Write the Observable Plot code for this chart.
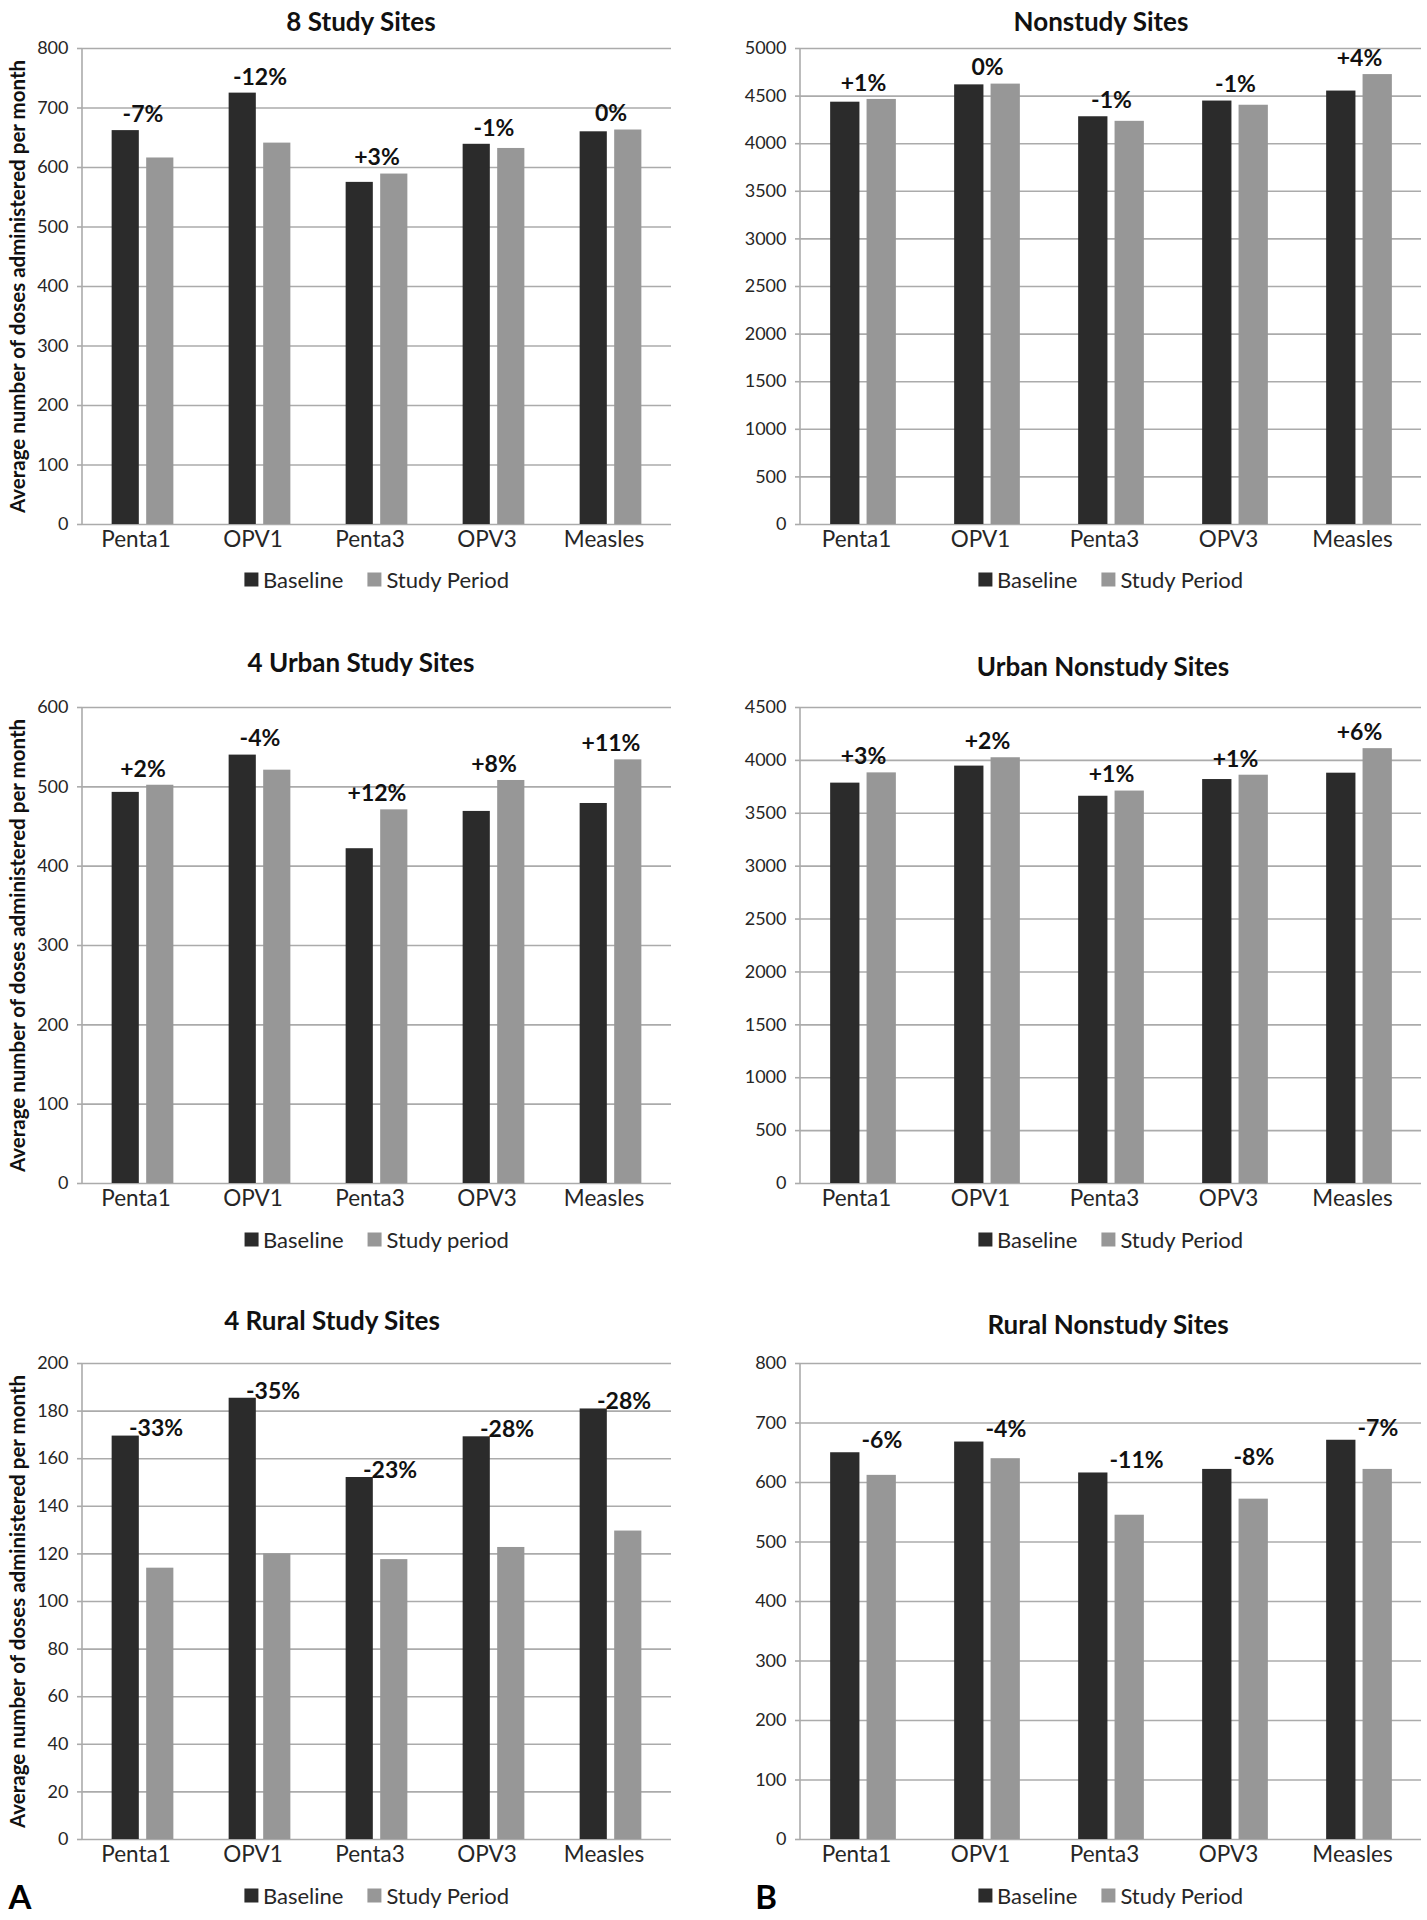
<!DOCTYPE html>
<html><head><meta charset="utf-8">
<script src="https://cdn.jsdelivr.net/npm/d3@7"></script>
<script src="https://cdn.jsdelivr.net/npm/@observablehq/plot@0.6"></script>
<style>
html,body{margin:0;padding:0;background:#fff;}
#root{position:relative;width:1427px;height:1920px;background:#fff;font-family:Lato,"Open Sans",sans-serif;color:#1a1a1a;overflow:hidden}
.title{position:absolute;font-weight:bold;font-size:26px;transform:translate(-50%,-50%);white-space:nowrap;color:#111}
.legend{position:absolute;transform:translate(-50%,-50%);display:flex;align-items:center;font-size:22px;white-space:nowrap;color:#262626}
.legend .item{display:flex;align-items:center;margin:0 12px}
.legend .sw{display:inline-block;width:14px;height:14px;margin-right:5px}
.plot{position:absolute}
.letter{position:absolute;font-weight:bold;font-size:33px;transform:translate(-50%,-50%);color:#000}
</style></head>
<body><div id="root"></div>
<script>
// ---- data ----
const categories = ["Penta1", "OPV1", "Penta3", "OPV3", "Measles"];
const seriesNames = ["Baseline", "Study Period"];

const study8Baseline = [662, 725, 575, 639, 660];
const study8Study = [616, 641, 589, 632, 663];
const study8Change = ["-7%", "-12%", "+3%", "-1%", "0%"];

const nonstudyBaseline = [4436, 4618, 4283, 4448, 4553];
const nonstudyStudy = [4465, 4626, 4235, 4404, 4726];
const nonstudyChange = ["+1%", "0%", "-1%", "-1%", "+4%"];

const urbanStudyBaseline = [493, 540, 422, 469, 479];
const urbanStudyStudy = [502, 521, 471, 508, 534];
const urbanStudyChange = ["+2%", "-4%", "+12%", "+8%", "+11%"];

const urbanNonBaseline = [3785, 3946, 3661, 3819, 3879];
const urbanNonStudy = [3882, 4025, 3710, 3860, 4111];
const urbanNonChange = ["+3%", "+2%", "+1%", "+1%", "+6%"];

const ruralStudyBaseline = [169.5, 185.4, 152.1, 169.2, 180.9];
const ruralStudyStudy = [114, 120, 117.6, 122.7, 129.6];
const ruralStudyChange = ["-33%", "-35%", "-23%", "-28%", "-28%"];

const ruralNonBaseline = [650, 668, 616, 622, 671];
const ruralNonStudy = [612, 640, 545, 572, 622];
const ruralNonChange = ["-6%", "-4%", "-11%", "-8%", "-7%"];

const ticks800 = [0, 100, 200, 300, 400, 500, 600, 700, 800];
const ticks5000 = [0, 500, 1000, 1500, 2000, 2500, 3000, 3500, 4000, 4500, 5000];
const ticks600 = [0, 100, 200, 300, 400, 500, 600];
const ticks4500 = [0, 500, 1000, 1500, 2000, 2500, 3000, 3500, 4000, 4500];
const ticks200 = [0, 20, 40, 60, 80, 100, 120, 140, 160, 180, 200];

const yTitle = "Average number of doses administered per month";

// ---- style ----
const baseColor = "#2b2b2b";
const studyColor = "#979797";
const gridColor = "#ababab";
const textColor = "#262626";

const panels = [
  {title: "8 Study Sites", base: study8Baseline, study: study8Study, change: study8Change, ticks: ticks800,
   legend: ["Baseline", "Study Period"], col: 0, row: 0, titleX: 361, titleY: 21, mode: "pair"},
  {title: "Nonstudy Sites", base: nonstudyBaseline, study: nonstudyStudy, change: nonstudyChange, ticks: ticks5000,
   legend: ["Baseline", "Study Period"], col: 1, row: 0, titleX: 1101, titleY: 21, mode: "pair"},
  {title: "4 Urban Study Sites", base: urbanStudyBaseline, study: urbanStudyStudy, change: urbanStudyChange, ticks: ticks600,
   legend: ["Baseline", "Study period"], col: 0, row: 1, titleX: 361, titleY: 662, mode: "pair"},
  {title: "Urban Nonstudy Sites", base: urbanNonBaseline, study: urbanNonStudy, change: urbanNonChange, ticks: ticks4500,
   legend: ["Baseline", "Study Period"], col: 1, row: 1, titleX: 1103, titleY: 666, mode: "pair"},
  {title: "4 Rural Study Sites", base: ruralStudyBaseline, study: ruralStudyStudy, change: ruralStudyChange, ticks: ticks200,
   legend: ["Baseline", "Study Period"], col: 0, row: 2, titleX: 332, titleY: 1320, mode: "right", labelDx: -14, labelDy: -7},
  {title: "Rural Nonstudy Sites", base: ruralNonBaseline, study: ruralNonStudy, change: ruralNonChange, ticks: ticks800,
   legend: ["Baseline", "Study Period"], col: 1, row: 2, titleX: 1108, titleY: 1324, mode: "right", labelDx: -2, labelDy: -12}
];

const cols = [
  {left: 0, width: 700, ml: 82, mr: 29},
  {left: 714, width: 713, ml: 86, mr: 6}
];
const rowsLayout = [
  {plotTop: 48, legendY: 579},
  {plotTop: 707, legendY: 1239},
  {plotTop: 1363, legendY: 1895}
];
const plotH = 476, mt = 10, mb = 40;

const root = document.getElementById("root");

function addDiv(cls, html, x, y) {
  const d = document.createElement("div");
  d.className = cls;
  d.innerHTML = html;
  d.style.left = x + "px";
  d.style.top = y + "px";
  root.appendChild(d);
  return d;
}

for (const p of panels) {
  const c = cols[p.col], r = rowsLayout[p.row];
  const data = categories.map((cat, i) => ({category: cat, baseline: p.base[i], study: p.study[i], change: p.change[i]}));
  const plotW = c.width - c.ml - c.mr;
  const bw = plotW / categories.length;
  const barFrac = 0.2375, gapFrac = 0.0557, outer = (1 - 2 * barFrac - gapFrac) / 2;
  const ymax = p.ticks[p.ticks.length - 1];

  const marks = [
    Plot.gridY(p.ticks, {stroke: gridColor, strokeOpacity: 1, strokeWidth: 1.6}),
    Plot.barY(data, {x: "category", y: "baseline", fill: baseColor,
      insetLeft: bw * outer, insetRight: bw * (1 - outer - barFrac)}),
    Plot.barY(data, {x: "category", y: "study", fill: studyColor,
      insetLeft: bw * (outer + barFrac + gapFrac), insetRight: bw * outer}),
    (index, scales, values, dims) => {
      const l = document.createElementNS("http://www.w3.org/2000/svg", "line");
      l.setAttribute("x1", dims.marginLeft); l.setAttribute("x2", dims.marginLeft);
      l.setAttribute("y1", scales.y(ymax)); l.setAttribute("y2", scales.y(0));
      l.setAttribute("stroke", gridColor); l.setAttribute("stroke-width", 1.6);
      return l;
    },
    Plot.axisY(p.ticks, {tickSize: 5, tickPadding: 9, stroke: gridColor, strokeWidth: 1.6, fill: textColor,
      fontSize: 18, label: null, tickFormat: d => String(d)}),
    Plot.axisX({tickSize: 0, tickPadding: 7, dx: -7, fontSize: 22.5, fill: textColor, label: null})
  ];
  if (p.mode === "pair") {
    marks.push(Plot.text(data, {x: "category", y: d => Math.max(d.baseline, d.study), text: "change",
      dy: -16, fontWeight: "bold", fontSize: 23, fill: "#111"}));
  } else {
    marks.push(Plot.text(data, {x: "category", y: "baseline", text: "change", textAnchor: "start",
      dx: p.labelDx, dy: p.labelDy, fontWeight: "bold", fontSize: 23, fill: "#111"}));
  }
  if (p.col === 0) {
    marks.push(Plot.text([yTitle], {frameAnchor: "left", rotate: -90, textAnchor: "middle", dx: -(c.ml - 18), text: d => d,
      fontWeight: "bold", fontSize: 20.5, fill: "#111"}));
  }

  const svg = Plot.plot({
    width: c.width, height: plotH + mt + mb,
    marginLeft: c.ml, marginRight: c.mr, marginTop: mt, marginBottom: mb,
    x: {type: "band", domain: categories, padding: 0, label: null},
    y: {domain: [0, ymax], label: null},
    style: {fontFamily: "Lato, 'Open Sans', sans-serif", background: "transparent", overflow: "visible"},
    marks
  });
  svg.classList.add("plot");
  svg.style.position = "absolute";
  svg.style.left = c.left + "px";
  svg.style.top = (r.plotTop - mt) + "px";
  root.appendChild(svg);

  addDiv("title", p.title, p.titleX, p.titleY);
  const cx = c.left + c.ml + plotW / 2;
  addDiv("legend",
    `<span class="item"><span class="sw" style="background:${baseColor}"></span>${p.legend[0]}</span>` +
    `<span class="item"><span class="sw" style="background:${studyColor}"></span>${p.legend[1]}</span>`,
    cx, r.legendY);
}
addDiv("letter", "A", 20, 1896);
addDiv("letter", "B", 766, 1896);
</script>
</body></html>
